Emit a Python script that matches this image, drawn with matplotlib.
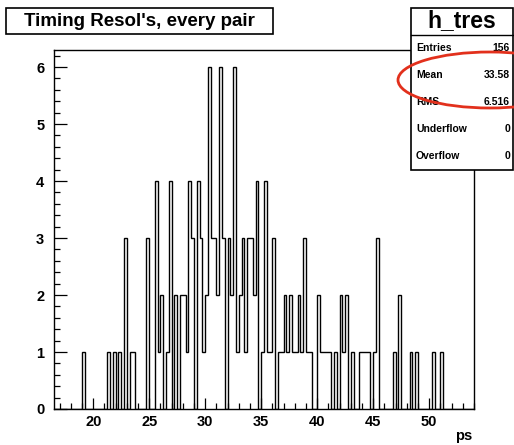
import numpy as np
import matplotlib.pyplot as plt
from matplotlib.patches import Rectangle, Ellipse
from matplotlib.lines import Line2D
from matplotlib.ticker import MultipleLocator

# histogram h_tres: 150 bins of 0.25 ps between 16.5 and 54
x_min, x_max, bin_width = 16.5, 54.0, 0.25

# lower edge (ps) and content of every non-empty bin
bin_low = [19.0, 21.25, 21.75, 22.25, 22.75, 23.25, 23.5, 24.75, 25.5, 25.75,
           26.0, 26.5, 26.75, 27.25, 27.75, 28.0, 28.25, 28.5, 28.75, 29.25,
           29.5, 29.75, 30.0, 30.25, 30.5, 30.75, 31.0, 31.25, 31.5, 32.0,
           32.25, 32.5, 32.75, 33.0, 33.25, 33.5, 33.75, 34.0, 34.25, 34.5,
           35.0, 35.25, 35.5, 35.75, 36.0, 36.5, 36.75, 37.0, 37.25, 37.5,
           37.75, 38.0, 38.25, 38.5, 38.75, 39.0, 39.25, 40.0, 40.25, 40.5,
           40.75, 41.0, 41.5, 42.0, 42.25, 42.5, 43.0, 43.75, 44.0, 44.25,
           44.5, 45.0, 45.25, 46.75, 47.25, 48.25, 48.75, 50.25, 51.0]
bin_count = [1, 1, 1, 1, 3, 1, 1, 3, 4, 1,
             2, 1, 4, 2, 2, 2, 1, 4, 3, 4,
             3, 1, 2, 6, 3, 3, 2, 6, 3, 3,
             2, 6, 1, 2, 3, 1, 3, 3, 2, 4,
             1, 4, 1, 1, 3, 1, 1, 2, 1, 2,
             1, 1, 2, 1, 3, 1, 1, 2, 1, 1,
             1, 1, 1, 2, 1, 2, 1, 1, 1, 1,
             1, 1, 3, 1, 2, 1, 1, 1, 1]

stat_names = ["Entries", "Mean", "RMS", "Underflow", "Overflow"]
stat_values = ["156", "33.58", "6.516", "0", "0"]

edges = np.arange(x_min, x_max + bin_width / 2, bin_width)
counts = np.zeros(len(edges) - 1)
for lo, c in zip(bin_low, bin_count):
    counts[int(round((lo - x_min) / bin_width))] = c

plt.rcParams['font.family'] = ['Liberation Sans', 'DejaVu Sans']
plt.rcParams['font.weight'] = 'bold'

W, H = 514, 445
fig = plt.figure(figsize=(W / 100, H / 100), dpi=100)
ax = fig.add_axes([54 / W, 1 - 409 / H, 420 / W, 359 / H])

ax.stairs(counts, edges, color='black', lw=1.0)
ax.set_xlim(x_min, x_max)
ax.set_ylim(0, 6.3)
ax.xaxis.set_major_locator(MultipleLocator(5))
ax.xaxis.set_minor_locator(MultipleLocator(1))
ax.yaxis.set_major_locator(MultipleLocator(1))
ax.yaxis.set_minor_locator(MultipleLocator(0.2))
ax.tick_params(which='both', direction='in', top=False, right=False,
               labelsize=10.5, width=0.9)
ax.tick_params(axis='x', which='major', length=8, pad=4)
ax.tick_params(axis='x', which='minor', length=4)
ax.tick_params(axis='y', which='major', length=9, pad=7)
ax.tick_params(axis='y', which='minor', length=4.5)
for s in ax.spines.values():
    s.set_linewidth(1.0)

fig.text(472 / W, 1 - 436 / H, "ps", ha='right', va='center', size=10.5)

# title box
fig.add_artist(Rectangle((6 / W, 1 - 34 / H), 267 / W, 26 / H,
                         transform=fig.transFigure, fc='white', ec='black', lw=1.2))
fig.text(139.5 / W, 1 - 21.5 / H, "Timing Resol's, every pair",
         ha='center', va='center', size=13.5)

# stats box
fig.add_artist(Rectangle((411 / W, 1 - 170 / H), 102 / W, 162 / H,
                         transform=fig.transFigure, fc='white', ec='black', lw=1.2,
                         zorder=3))
fig.add_artist(Line2D([411 / W, 513 / W], [1 - 35 / H, 1 - 35 / H],
                      transform=fig.transFigure, color='black', lw=1.0, zorder=4))
fig.text(462 / W, 1 - 21 / H, "h_tres", ha='center', va='center', size=16.5, zorder=5)
for i, (name, val) in enumerate(zip(stat_names, stat_values)):
    y = 1 - (48 + 27 * i) / H
    fig.text(416 / W, y, name, ha='left', va='center', size=7.5, zorder=5)
    fig.text(510 / W, y, val, ha='right', va='center', size=7.5, zorder=5)

# red marking around the mean
fig.add_artist(Ellipse((490 / W, 1 - 80 / H), 184 / W, 56 / H,
                       transform=fig.transFigure, fill=False, ec='#e2301c',
                       lw=2.0, zorder=6))

fig.savefig("out.png", dpi=100)
